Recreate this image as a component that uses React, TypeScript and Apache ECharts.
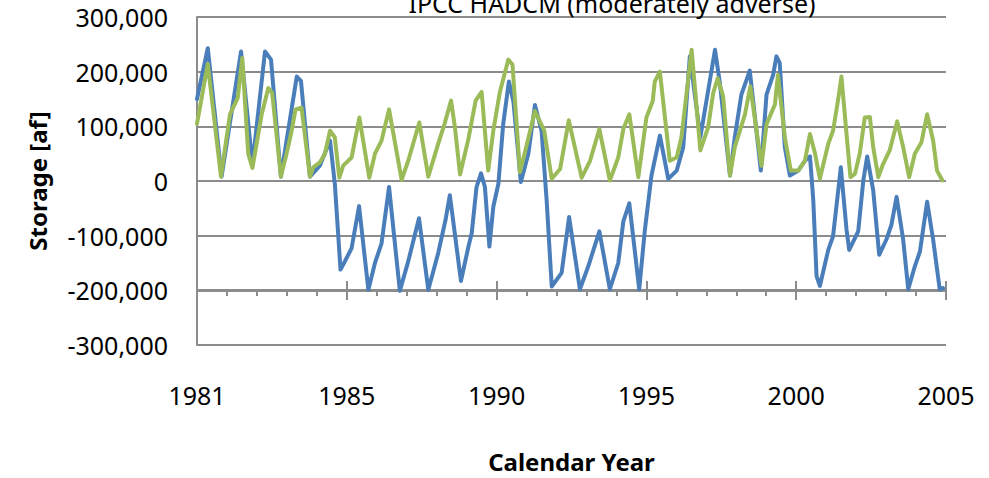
import React, { useEffect, useRef } from "react";
import * as echarts from "echarts";

// x = years since start of record (0 .. 25), y = storage [af]
const tickLabels = ["1981", "1985", "1990", "1995", "2000", "2005"];

const blueSeries: [number, number][] = [
  [0, 150000], [0.36, 243000], [0.82, 8000], [1.47, 237000], [1.85, 30000],
  [2.27, 237000], [2.47, 222000], [2.8, 8000], [3.33, 191000], [3.47, 183000],
  [3.77, 8000], [4.1, 28000], [4.44, 74000], [4.6, -5000], [4.79, -162000],
  [4.88, -153000], [5.16, -123000], [5.41, -46000], [5.72, -199000], [5.94, -150000],
  [6.16, -114000], [6.41, -11000], [6.77, -201000], [7.05, -147000], [7.41, -68000],
  [7.72, -199000], [8.05, -132000], [8.3, -70000], [8.44, -26000], [8.81, -183000],
  [9.06, -120000], [9.17, -95000], [9.33, -11000], [9.48, 14000], [9.61, -11000],
  [9.76, -120000], [9.89, -47000], [10.06, -5000], [10.22, 104000], [10.41, 182000],
  [10.56, 146000], [10.81, -2000], [11.06, 50000], [11.28, 139000], [11.5, 92000],
  [11.67, -35000], [11.84, -193000], [12.17, -168000], [12.42, -66000], [12.78, -198000],
  [13.06, -156000], [13.43, -92000], [13.78, -198000], [14.06, -150000], [14.23, -74000],
  [14.43, -41000], [14.76, -198000], [14.95, -89000], [15.17, 10000], [15.45, 83000],
  [15.73, 4000], [16.01, 19000], [16.23, 62000], [16.45, 228000], [16.8, 80000],
  [17.29, 240000], [17.45, 180000], [17.79, 10000], [17.95, 80000], [18.17, 158000],
  [18.45, 202000], [18.82, 19000], [19.01, 158000], [19.23, 194000], [19.34, 228000],
  [19.45, 216000], [19.62, 62000], [19.79, 10000], [20.07, 19000], [20.29, 37000],
  [20.46, 45000], [20.57, -35000], [20.68, -174000], [20.79, -192000], [21.07, -126000],
  [21.23, -101000], [21.49, 25000], [21.68, -89000], [21.77, -126000], [22.07, -92000],
  [22.24, 1000], [22.37, 45000], [22.57, -17000], [22.77, -135000], [23.01, -107000],
  [23.18, -80000], [23.35, -29000], [23.57, -107000], [23.74, -198000], [23.96, -156000],
  [24.13, -129000], [24.37, -38000], [24.57, -107000], [24.79, -198000], [24.9, -196000],
];

const greenSeries: [number, number][] = [
  [0, 105000], [0.36, 214000], [0.8, 8000], [1.1, 122000], [1.36, 152000],
  [1.51, 225000], [1.71, 50000], [1.85, 24000], [2.16, 122000], [2.38, 170000],
  [2.51, 161000], [2.8, 8000], [2.99, 50000], [3.16, 92000], [3.29, 131000],
  [3.49, 134000], [3.77, 8000], [3.88, 25000], [4.1, 34000], [4.27, 50000],
  [4.44, 92000], [4.6, 80000], [4.75, 6000], [4.88, 28000], [5.16, 43000],
  [5.42, 116000], [5.75, 6000], [5.94, 50000], [6.16, 74000], [6.41, 131000],
  [6.83, 2000], [7.05, 37000], [7.42, 107000], [7.72, 8000], [8.05, 68000],
  [8.26, 104000], [8.48, 147000], [8.61, 98000], [8.78, 12000], [9.06, 77000],
  [9.3, 147000], [9.5, 163000], [9.72, 19000], [9.89, 92000], [10.11, 163000],
  [10.39, 222000], [10.53, 213000], [10.78, 16000], [11.0, 65000], [11.28, 128000],
  [11.59, 92000], [11.84, 4000], [12.12, 22000], [12.41, 111000], [12.84, 6000],
  [13.12, 37000], [13.43, 95000], [13.78, 1000], [14.06, 43000], [14.23, 95000],
  [14.43, 122000], [14.73, 7000], [15.0, 116000], [15.21, 146000], [15.28, 182000],
  [15.45, 200000], [15.78, 37000], [16.01, 43000], [16.17, 80000], [16.51, 240000],
  [16.8, 56000], [17.06, 98000], [17.23, 161000], [17.38, 188000], [17.56, 155000],
  [17.79, 10000], [17.95, 62000], [18.29, 122000], [18.47, 173000], [18.84, 28000],
  [19.01, 104000], [19.29, 140000], [19.39, 194000], [19.62, 80000], [19.82, 19000],
  [20.07, 19000], [20.29, 37000], [20.46, 86000], [20.63, 50000], [20.79, 4000],
  [21.07, 68000], [21.23, 92000], [21.4, 149000], [21.51, 191000], [21.68, 86000],
  [21.81, 7000], [21.96, 13000], [22.12, 50000], [22.29, 116000], [22.46, 117000],
  [22.57, 62000], [22.74, 7000], [22.9, 31000], [23.12, 56000], [23.37, 109000],
  [23.57, 62000], [23.77, 7000], [23.96, 50000], [24.18, 71000], [24.37, 122000],
  [24.57, 74000], [24.7, 19000], [24.88, 1000],
];

const FONT = "Noto Sans";
const GRID_COLOR = "#8c8c8c";

export default function App() {
  const ref = useRef<HTMLDivElement>(null);

  useEffect(() => {
    if (!ref.current) return;
    const chart = echarts.init(ref.current, null, { renderer: "svg" });
    const xLabelFmt = (v: number) => {
      const i = Math.round(v / 5);
      return Math.abs(v - i * 5) < 1e-6 ? tickLabels[i] ?? "" : "";
    };
    const tickAxisBase = {
      type: "value" as const,
      min: 0,
      max: 25,
      interval: 5,
      position: "bottom" as const,
      offset: -55,
      axisLabel: { show: false },
      splitLine: { show: false },
    };
    chart.setOption({
      animation: false,
      textStyle: { fontFamily: FONT },
      title: {
        text: "IPCC HADCM (moderately adverse)",
        left: 607,
        top: -15,
        textAlign: "center",
        textStyle: { fontFamily: FONT, fontSize: 25, fontWeight: "normal", color: "#000" },
      },
      grid: { left: 197, right: 43, top: 17, bottom: 131, containLabel: false },
      xAxis: [
        {
          type: "value",
          min: 0,
          max: 25,
          interval: 5,
          position: "bottom",
          axisLine: { show: false, onZero: false },
          axisTick: { show: false },
          splitLine: { show: false },
          axisLabel: { formatter: xLabelFmt, fontSize: 25, color: "#000", margin: 37, fontFamily: FONT },
          name: "Calendar Year",
          nameLocation: "middle",
          nameGap: 104,
          nameTextStyle: { fontFamily: FONT, fontSize: 24, fontWeight: "bold", color: "#000" },
        },
        {
          ...tickAxisBase,
          axisLine: { show: true, onZero: false, lineStyle: { color: GRID_COLOR, width: 2 } },
          axisTick: { show: true, length: 10, lineStyle: { color: GRID_COLOR, width: 2 } },
          minorTick: { show: true, splitNumber: 5, length: 6, lineStyle: { color: GRID_COLOR, width: 2 } },
        },
        {
          ...tickAxisBase,
          axisLine: { show: false, onZero: false },
          axisTick: { show: true, inside: true, length: 9, lineStyle: { color: GRID_COLOR, width: 2 } },
        },
      ],
      yAxis: {
        type: "value",
        min: -300000,
        max: 300000,
        interval: 100000,
        axisLine: { show: true, onZero: false, lineStyle: { color: GRID_COLOR, width: 2 } },
        axisTick: { show: false },
        splitLine: { show: true, lineStyle: { color: GRID_COLOR, width: 2 } },
        axisLabel: {
          fontSize: 25,
          color: "#000",
          margin: 29,
          fontFamily: FONT,
          formatter: (v: number) => v.toLocaleString("en-US"),
        },
        name: "Storage [af]",
        nameLocation: "middle",
        nameRotate: 90,
        nameGap: 148,
        nameTextStyle: { fontFamily: FONT, fontSize: 24, fontWeight: "bold", color: "#000" },
      },
      series: [
        {
          name: "Blue",
          type: "line",
          xAxisIndex: 0,
          data: blueSeries,
          showSymbol: false,
          symbol: "none",
          lineStyle: { color: "#4A7EBB", width: 4, cap: "round", join: "round" },
          itemStyle: { color: "#4A7EBB" },
        },
        {
          name: "Green",
          type: "line",
          xAxisIndex: 0,
          data: greenSeries,
          showSymbol: false,
          symbol: "none",
          lineStyle: { color: "#9BBB59", width: 4, cap: "round", join: "round" },
          itemStyle: { color: "#9BBB59" },
        },
      ],
    });
    return () => chart.dispose();
  }, []);

  return (
    <div
      ref={ref}
      style={{ position: "fixed", left: 0, top: 0, width: 989, height: 478, background: "#fff" }}
    />
  );
}
